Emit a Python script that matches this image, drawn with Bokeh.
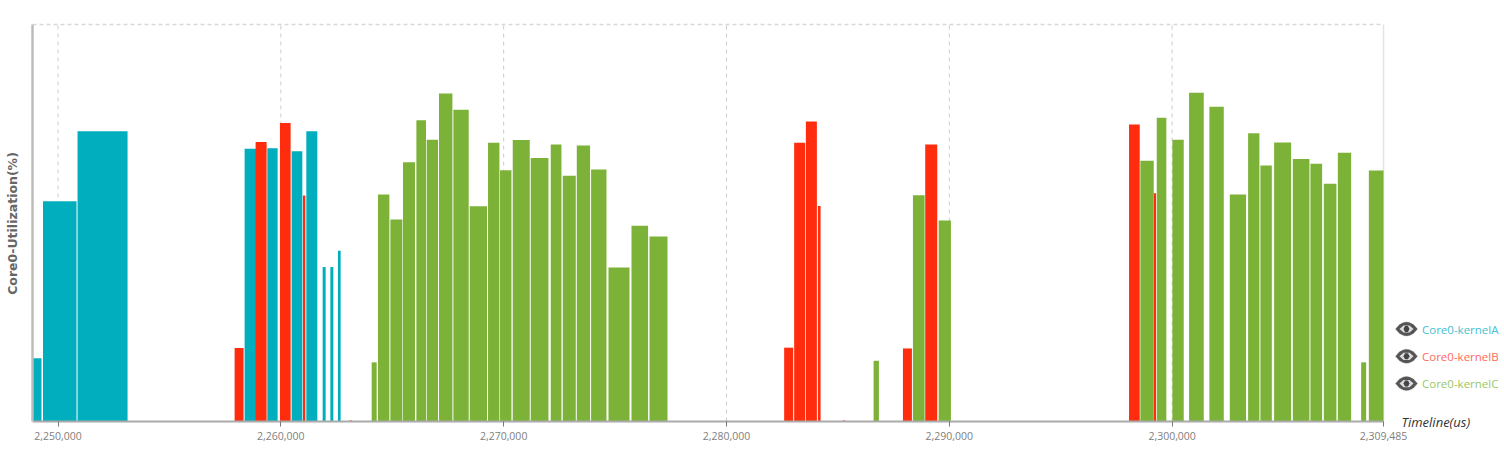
from bokeh.embed import file_html
from bokeh.resources import INLINE
from bokeh.plotting import figure
from bokeh.models import FixedTicker, Range1d, Label, PolyAnnotation

X_MIN, X_MAX = 2248855, 2309485
TICKS = [2250000, 2260000, 2270000, 2280000, 2290000, 2300000, 2309485]
TICK_LABELS = ["2,250,000", "2,260,000", "2,270,000", "2,280,000", "2,290,000", "2,300,000", "2,309,485"]

A_START = [2248855, 2249326, 2250876, 2258374, 2259393, 2260484, 2261144, 2261876, 2262222, 2262563]
A_END   = [2249259, 2250831, 2253121, 2258950, 2259856, 2260965, 2261638, 2262011, 2262356, 2262684]
A_VAL   = [15.9, 55.5, 73.1, 68.7, 68.8, 68.1, 73.1, 38.9, 38.9, 43.0]

B_START = [2257925, 2258868, 2259959, 2260992, 2263088, 2282588, 2283037, 2283563, 2284102, 2285238,
           2287918, 2288919, 2298065, 2299174]
B_END   = [2258329, 2259362, 2260439, 2261099, 2263178, 2282993, 2283531, 2284057, 2284223, 2285314,
           2288322, 2289458, 2298546, 2299278]
B_VAL   = [18.5, 70.4, 75.2, 56.9, 0.3, 18.6, 70.2, 75.6, 54.3, 0.3, 18.4, 69.8, 74.8, 57.5]

C_START = [2264076, 2264359, 2264916, 2265482, 2266083, 2266546, 2267098, 2267744, 2268476, 2269298,
           2269837, 2270407, 2271215, 2272113, 2272652, 2273281, 2273923, 2274704, 2275737, 2276545,
           2286602, 2288367, 2289521,
           2298573, 2299309, 2300010, 2300759, 2301671, 2302587, 2303409, 2303961, 2304576, 2305416,
           2306206, 2306807, 2307436, 2308482, 2308828]
C_END   = [2264301, 2264871, 2265455, 2266020, 2266514, 2267053, 2267700, 2268431, 2269253, 2269810,
           2270349, 2271170, 2272010, 2272594, 2273236, 2273878, 2274614, 2275647, 2276482, 2277353,
           2286840, 2288892, 2290073,
           2299174, 2299740, 2300521, 2301419, 2302317, 2303319, 2303916, 2304473, 2305339, 2306161,
           2306731, 2307373, 2308033, 2308707, 2309485]
C_VAL   = [14.9, 57.2, 50.9, 65.3, 75.9, 71.0, 82.6, 78.5, 54.2, 70.2,
           63.3, 70.9, 66.4, 69.8, 61.9, 69.5, 63.5, 38.8, 49.3, 46.6,
           15.3, 57.0, 50.6,
           65.7, 76.5, 71.0, 82.8, 79.3, 57.2, 72.6, 64.5, 70.3, 66.1,
           64.9, 59.9, 67.7, 14.9, 63.2]

SERIES = ["Core0-kernelA", "Core0-kernelB", "Core0-kernelC"]
COLORS = ["#00aebd", "#ff2d0e", "#7db239"]
LEGEND_COLORS = ["#45c1cf", "#ff6a58", "#98c766"]
FONT = "Open Sans"

# The frame runs past the axes to the right and below, so the legend and the
# "Timeline(us)" caption can sit inside it; the axes are bounded to the data.
p = figure(width=1500, height=446, output_backend="svg", toolbar_location=None,
           x_range=Range1d(X_MIN, 2314736), y_range=Range1d(-6.3, 106.05),
           min_border_left=32, min_border_right=0, min_border_top=0, min_border_bottom=0,
           outline_line_color=None, background_fill_color="white")

p.xgrid.visible = False
p.ygrid.visible = False

GRID = TICKS[:-1]
p.segment(x0=GRID, y0=[0] * len(GRID), x1=GRID, y1=[100] * len(GRID),
          line_color="#cccccc", line_width=1, line_dash="4 4")
p.segment(x0=[X_MIN], y0=[100], x1=[X_MAX], y1=[100], line_color="#d8d8d8", line_width=1.5, line_dash="4 3")
p.segment(x0=[X_MAX], y0=[0], x1=[X_MAX], y1=[100], line_color="#e4e4e4", line_width=1.5)

p.quad(left=A_START, right=A_END, bottom=0, top=A_VAL, fill_color=COLORS[0], line_color=None, name=SERIES[0])
p.quad(left=B_START, right=B_END, bottom=0, top=B_VAL, fill_color=COLORS[1], line_color=None, name=SERIES[1])
p.quad(left=C_START, right=C_END, bottom=0, top=C_VAL, fill_color=COLORS[2], line_color=None, name=SERIES[2])

p.xaxis.fixed_location = 0
p.xaxis.bounds = (X_MIN, X_MAX)
p.xaxis.ticker = FixedTicker(ticks=TICKS)
p.xaxis.major_label_overrides = dict(zip(TICKS, TICK_LABELS))
p.xaxis.major_label_text_font = FONT
p.xaxis.major_label_text_font_size = "10.5px"
p.xaxis.major_label_text_color = "#808080"
p.xaxis.major_label_standoff = 6
p.xaxis.axis_line_color = "#aaaaaa"
p.xaxis.axis_line_width = 2
p.xaxis.major_tick_line_color = "#777777"
p.xaxis.major_tick_in = 0
p.xaxis.major_tick_out = 5
p.xaxis.minor_tick_line_color = None

p.yaxis.bounds = (0, 100)
p.yaxis.ticker = FixedTicker(ticks=[])
p.yaxis.axis_line_color = "#bcbcbc"
p.yaxis.axis_line_width = 2.5
p.yaxis.minor_tick_line_color = None
p.yaxis.major_tick_line_color = None
p.yaxis.axis_label = "Core0-Utilization(%)"
p.yaxis.axis_label_text_font = "DejaVu Sans"
p.yaxis.axis_label_text_font_style = "bold"
p.yaxis.axis_label_text_font_size = "12.5px"
p.yaxis.axis_label_text_color = "#666666"
p.yaxis.axis_label_standoff = 13

# legend: eye icon + coloured name
for i, (name, col) in enumerate(zip(SERIES, LEGEND_COLORS)):
    cy = 328.5 + 27.3 * i
    cx = 1406
    lens_x = [cx - 11, cx - 7, cx - 3, cx, cx + 3, cx + 7, cx + 11, cx + 7, cx + 3, cx, cx - 3, cx - 7]
    lens_y = [cy, cy - 4.5, cy - 6.5, cy - 7, cy - 6.5, cy - 4.5, cy, cy + 4.5, cy + 6.5, cy + 7, cy + 6.5, cy + 4.5]
    p.add_layout(PolyAnnotation(xs=lens_x, ys=lens_y, xs_units="canvas", ys_units="canvas",
                                fill_color="#555555", fill_alpha=1, line_color="#777777"))
    white_x = [cx - 7, cx - 3, cx + 3, cx + 7, cx + 3, cx - 3]
    white_y = [cy, cy - 3.6, cy - 3.6, cy, cy + 3.6, cy + 3.6]
    p.add_layout(PolyAnnotation(xs=white_x, ys=white_y, xs_units="canvas", ys_units="canvas",
                                fill_color="#dddddd", fill_alpha=1, line_color=None))
    pup_x = [cx - 3, cx - 1.5, cx + 1.5, cx + 3, cx + 1.5, cx - 1.5]
    pup_y = [cy, cy - 3, cy - 3, cy, cy + 3, cy + 3]
    p.add_layout(PolyAnnotation(xs=pup_x, ys=pup_y, xs_units="canvas", ys_units="canvas",
                                fill_color="#444444", fill_alpha=1, line_color=None))
    p.add_layout(Label(x=1421.5, y=cy, x_units="canvas", y_units="canvas", text=name,
                       text_font=FONT, text_font_size="11.5px", text_color=col,
                       text_align="left", text_baseline="middle"))

p.add_layout(Label(x=1401, y=421, x_units="canvas", y_units="canvas", text="Timeline(us)",
                   text_font=FONT, text_font_size="13px", text_font_style="italic", text_color="#333333",
                   text_align="left", text_baseline="middle"))

open("out.html", "w").write(file_html(p, INLINE))
